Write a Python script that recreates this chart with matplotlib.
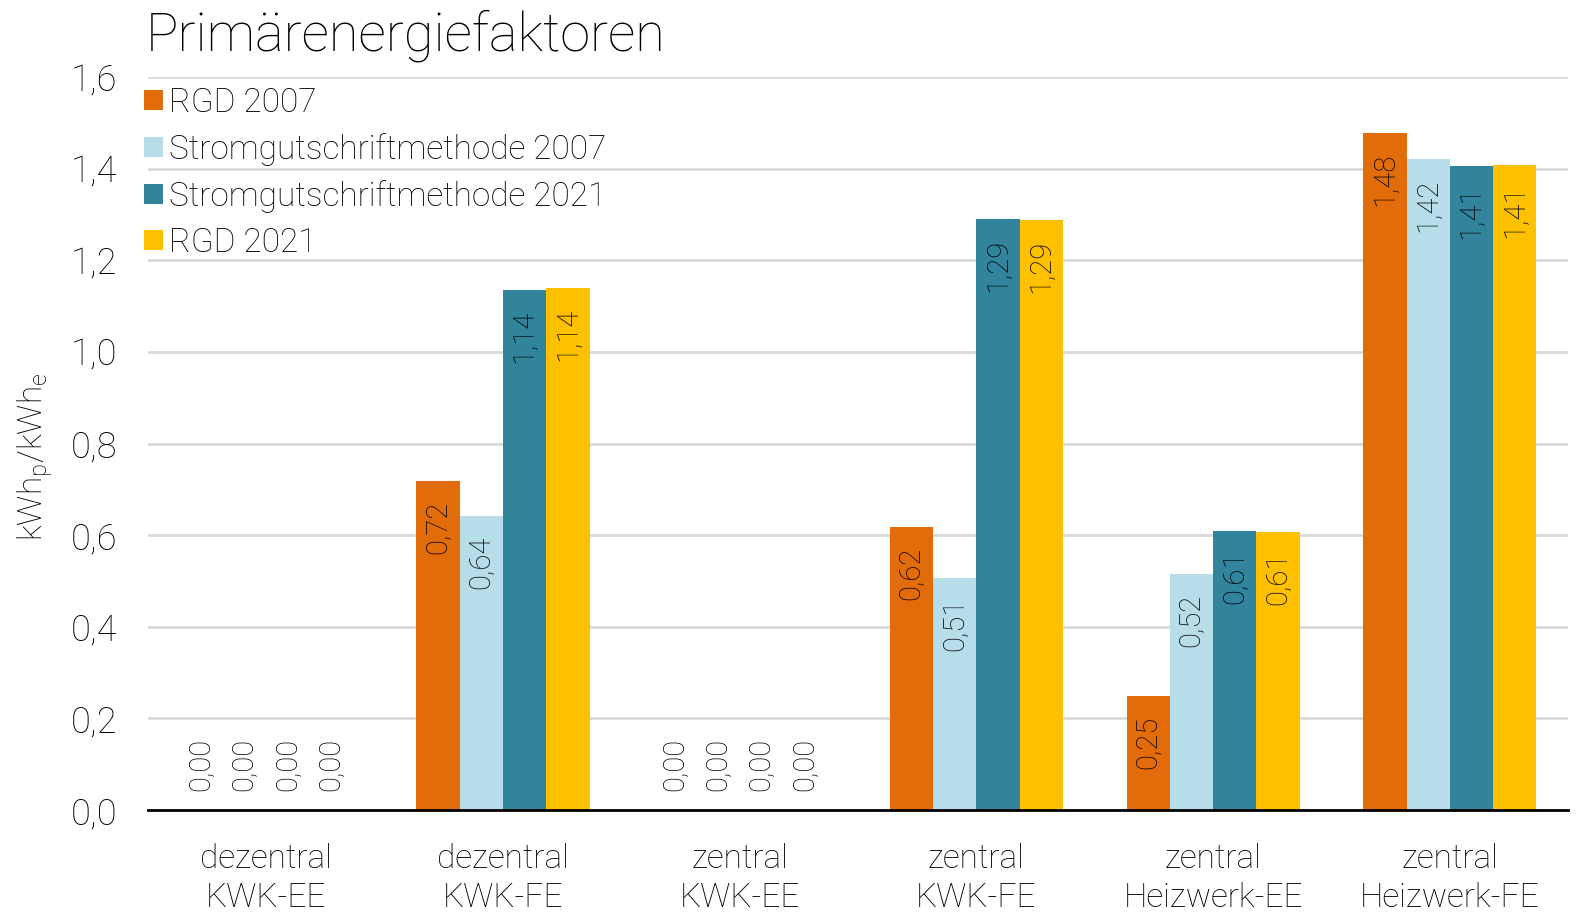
import matplotlib
matplotlib.use('Agg')
import matplotlib.pyplot as plt
import numpy as np

plt.rcParams['font.family'] = ['Roboto', 'DejaVu Sans']
plt.rcParams['font.weight'] = 'light'

# Daten
kategorien = ['dezentral\nKWK-EE', 'dezentral\nKWK-FE', 'zentral\nKWK-EE',
              'zentral\nKWK-FE', 'zentral\nHeizwerk-EE', 'zentral\nHeizwerk-FE']
serien = ['RGD 2007', 'Stromgutschriftmethode 2007',
          'Stromgutschriftmethode 2021', 'RGD 2021']
rgd_2007 = [0.00, 0.718, 0.00, 0.618, 0.249, 1.478]
sgm_2007 = [0.00, 0.642, 0.00, 0.506, 0.515, 1.421]
sgm_2021 = [0.00, 1.135, 0.00, 1.290, 0.609, 1.406]
rgd_2021 = [0.00, 1.139, 0.00, 1.288, 0.607, 1.408]
farben = ['#E36C0A', '#B7DEE8', '#31849B', '#FFC000']

werte = [rgd_2007, sgm_2007, sgm_2021, rgd_2021]

fig = plt.figure(figsize=(15.78, 9.18), dpi=100)
ax = fig.add_axes([0.0938, 0.1176, 0.9, 0.7985])

x = np.arange(len(kategorien))
breite = 0.183
for i, (vals, name, col) in enumerate(zip(werte, serien, farben)):
    pos = x + (i - 1.5) * breite
    bars = ax.bar(pos, vals, breite, color=col, label=name, zorder=3)
    for b, v in zip(bars, vals):
        txt = ('%.2f' % v).replace('.', ',')
        if v > 0.05:
            ax.annotate(txt, (b.get_x() + b.get_width() / 2, v), xytext=(0, -14),
                        textcoords='offset points', rotation=90, ha='center', va='top',
                        fontsize=21, color='#000000', zorder=4)
        else:
            ax.annotate(txt, (b.get_x() + b.get_width() / 2, 0), xytext=(0, 14),
                        textcoords='offset points', rotation=90, ha='center', va='bottom',
                        fontsize=21, color='#000000', zorder=4)

ax.set_xlim(-0.5, 5.5)
ax.set_ylim(0, 1.6)
ax.set_yticks(np.arange(0, 1.61, 0.2))
ax.set_yticklabels([('%.1f' % t).replace('.', ',') for t in np.arange(0, 1.61, 0.2)])
ax.set_xticks(x)
ax.set_xticklabels(kategorien, linespacing=1.25)
ax.tick_params(axis='both', length=0, colors='#000000')
ax.tick_params(axis='y', pad=22, labelsize=26)
ax.tick_params(axis='x', pad=24, labelsize=24)
ax.grid(axis='y', color='#D9D9D9', linewidth=2, zorder=0)
for s in ['top', 'right', 'left']:
    ax.spines[s].set_visible(False)
ax.spines['bottom'].set_linewidth(2)
ax.spines['bottom'].set_color('#000000')
ax.spines['bottom'].set_zorder(5)

fig.text(35 / 1578, 1 - 457 / 918, r'$\mathregular{kWh_p/kWh_e}$', rotation=90,
         ha='center', va='center', fontsize=24, color='#000000')

fig.text(146 / 1578, 1 - 50 / 918, 'Primärenergiefaktoren', ha='left', va='baseline',
         fontsize=39, color='#000000')

leg = ax.legend(loc='upper left', bbox_to_anchor=(-0.012, 1.005), frameon=False,
                fontsize=24, handlelength=0.55, handleheight=0.55,
                handletextpad=0.2, labelspacing=0.42, borderaxespad=0)
for t in leg.get_texts():
    t.set_color('#000000')

fig.savefig('out.png', dpi=100)
